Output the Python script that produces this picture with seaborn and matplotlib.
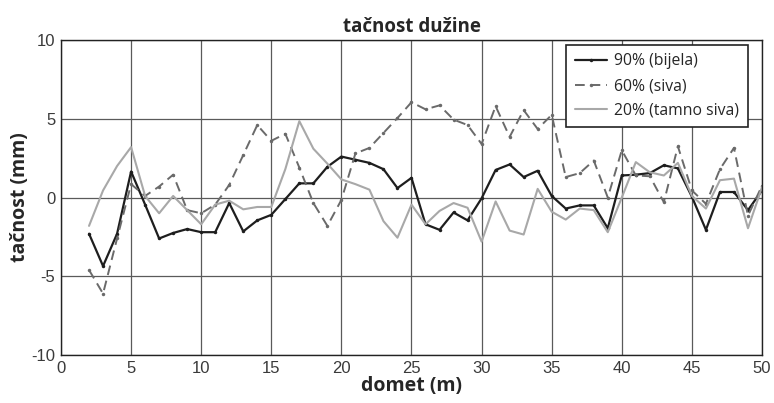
import numpy as np
import pandas as pd
import matplotlib
matplotlib.use("Agg")
import matplotlib.pyplot as plt
import seaborn as sns

# domet (m)
domet = list(range(2, 51))

bijela_90 = [-2.3, -4.35, -2.3, 1.65, -0.45, -2.6, -2.25, -2.0, -2.2, -2.2,
             -0.35, -2.15, -1.45, -1.1, -0.1, 0.9, 0.9, 1.95, 2.6, 2.4,
             2.2, 1.8, 0.6, 1.25, -1.7, -2.05, -0.95, -1.45, -0.05, 1.75,
             2.1, 1.3, 1.7, 0.1, -0.7, -0.5, -0.5, -1.95, 1.4, 1.45,
             1.55, 2.05, 1.85, 0.05, -2.05, 0.35, 0.35, -0.8, 0.45]

siva_60 = [-4.6, -6.1, -2.6, 0.85, 0.1, 0.7, 1.45, -0.8, -1.0, -0.45,
           0.8, 2.7, 4.6, 3.6, 4.05, 1.9, -0.35, -1.8, -0.15, 2.8,
           3.15, 4.1, 5.05, 6.05, 5.6, 5.85, 4.95, 4.6, 3.4, 5.8,
           3.85, 5.55, 4.35, 5.25, 1.3, 1.55, 2.35, 0.0, 3.0, 1.4,
           1.35, -0.3, 3.25, 0.45, -0.4, 1.8, 3.15, -1.15, 0.75]

tamno_siva_20 = [-1.8, 0.45, 2.0, 3.2, 0.1, -1.0, 0.1, -0.8, -1.7, -0.45,
                 -0.2, -0.75, -0.6, -0.6, 1.8, 4.85, 3.1, 2.15, 1.15, 0.85,
                 0.5, -1.5, -2.55, -0.45, -1.7, -0.85, -0.35, -0.65, -2.8, -0.25,
                 -2.1, -2.35, 0.55, -0.9, -1.4, -0.7, -0.8, -2.2, 0.0, 2.25,
                 1.6, 1.4, 2.2, 0.1, -0.7, 1.1, 1.2, -1.95, 0.65]

x_ticks = [0, 5, 10, 15, 20, 25, 30, 35, 40, 45, 50]
y_ticks = [-10, -5, 0, 5, 10]

sns.set_style("white")
plt.rcParams['font.family'] = ['Liberation Sans', 'DejaVu Sans']
plt.rcParams['axes.unicode_minus'] = False

fig = plt.figure(figsize=(7.74, 4.03), dpi=100)
ax = fig.add_axes([0.0788, 0.119, 0.9057, 0.7817])

sns.lineplot(x=domet, y=bijela_90, ax=ax, color='#1e1e1e', lw=1.6,
             marker='o', markersize=2.5, markeredgewidth=0, label='90% (bijela)')
sns.lineplot(x=domet, y=siva_60, ax=ax, color='#6a6a6a', lw=1.4,
             marker='o', markersize=2.5, markeredgewidth=0, label='60% (siva)')
ax.lines[-1].set_linestyle((0, (5, 3)))
sns.lineplot(x=domet, y=tamno_siva_20, ax=ax, color='#a8a8a8', lw=1.5,
             label='20% (tamno siva)')

ax.set_xlim(0, 50)
ax.set_ylim(-10, 10)
ax.set_xticks(x_ticks)
ax.set_yticks(y_ticks)
ax.tick_params(axis='both', labelsize=12, labelcolor='#3a3a3a', direction='out',
               length=3, pad=1, color='#333333')
ax.grid(True, color='#5a5a5a', lw=0.9)
for s in ax.spines.values():
    s.set_color('#222222')
    s.set_linewidth(1.0)

ax.set_xlabel("domet (m)", fontsize=14, fontweight='bold', family='Open Sans', labelpad=0)
ax.set_ylabel("tačnost (mm)", fontsize=14, fontweight='bold', family='Open Sans', labelpad=1)
ax.set_title("tačnost dužine", fontsize=13.5, fontweight='bold', family='Open Sans', pad=6)

leg = ax.legend(loc='upper right', fancybox=False, framealpha=1, edgecolor='#222222',
                prop={'family': 'Open Sans', 'size': 11.3}, handlelength=2.0,
                handletextpad=0.5, borderpad=0.55, labelspacing=0.55,
                borderaxespad=0, bbox_to_anchor=(0.98, 0.985))
leg.get_frame().set_linewidth(1.2)

fig.savefig("out.png", dpi=100)
